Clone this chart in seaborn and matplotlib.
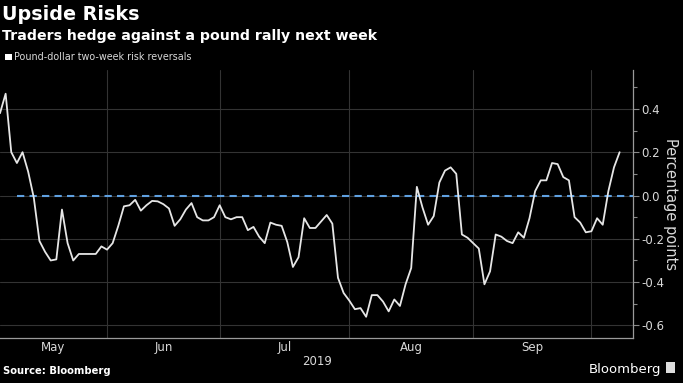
import numpy as np
import pandas as pd
import matplotlib.pyplot as plt
import seaborn as sns
from matplotlib.patches import Rectangle
from matplotlib.ticker import MultipleLocator

# Pound-dollar two-week risk reversals, one value per business day
start_date = "2019-05-07"
risk_reversals = [
    0.38, 0.47, 0.20, 0.15, 0.20, 0.11, -0.01, -0.21, -0.26, -0.30,
    -0.295, -0.065, -0.22, -0.30, -0.27, -0.27, -0.27, -0.27, -0.235, -0.25,
    -0.22, -0.14, -0.05, -0.045, -0.02, -0.07, -0.045, -0.025, -0.027, -0.04,
    -0.06, -0.14, -0.11, -0.065, -0.035, -0.10, -0.115, -0.115, -0.10, -0.045,
    -0.10, -0.11, -0.10, -0.10, -0.16, -0.145, -0.19, -0.22, -0.125, -0.135,
    -0.14, -0.215, -0.33, -0.285, -0.105, -0.15, -0.15, -0.12, -0.09, -0.13,
    -0.38, -0.45, -0.485, -0.525, -0.52, -0.56, -0.46, -0.46, -0.49, -0.535,
    -0.48, -0.51, -0.41, -0.335, 0.04, -0.055, -0.135, -0.095, 0.06, 0.115,
    0.13, 0.10, -0.18, -0.195, -0.22, -0.245, -0.41, -0.35, -0.18, -0.19,
    -0.21, -0.22, -0.17, -0.195, -0.105, 0.02, 0.07, 0.07, 0.15, 0.145,
    0.085, 0.07, -0.10, -0.125, -0.17, -0.165, -0.105, -0.135, 0.02, 0.13,
    0.20,
]
month_labels = ["May", "Jun", "Jul", "Aug", "Sep"]
month_starts = ["2019-06-03", "2019-07-01", "2019-08-01", "2019-09-02", "2019-10-01"]
y_ticks = [-0.6, -0.4, -0.2, 0.0, 0.2, 0.4]

# Business-day axis (weekends are squeezed out, as on the terminal chart)
dates = pd.bdate_range(start_date, periods=len(risk_reversals))
df = pd.DataFrame({"date": dates, "day": np.arange(len(dates)), "value": risk_reversals})
boundaries = list(dates.get_indexer(pd.to_datetime(month_starts)))
edges = [0] + boundaries
label_pos = [(a + b) / 2 for a, b in zip(edges[:-1], edges[1:])]

sns.set_theme(style="dark")
plt.rcParams['font.family'] = ['DejaVu Sans']
plt.rcParams['axes.unicode_minus'] = False

bg = "black"
grid_col = "#333333"
text_col = "#d9d9d9"

fig = plt.figure(figsize=(6.83, 3.83), dpi=100, facecolor=bg)
ax = fig.add_axes([0.0, 0.1175, 0.927, 0.7])
ax.set_facecolor(bg)

sns.lineplot(data=df, x="day", y="value", ax=ax, color="#e6e6e6", linewidth=1.3)
ax.axhline(0, xmin=0.027, xmax=1, color="#5fa0e0", linestyle=(0, (3.5, 2.5)), linewidth=1.5, zorder=1)

ax.set_xlim(0, 112.4)
ax.set_ylim(-0.658, 0.58)

# Y axis on the right
ax.yaxis.tick_right()
ax.yaxis.set_label_position("right")
ax.set_yticks(y_ticks)
ax.set_yticklabels([f"{v:.1f}" for v in y_ticks])
ax.yaxis.set_minor_locator(MultipleLocator(0.1))
ax.set_ylabel("Percentage points", color=text_col, fontsize=10.5, rotation=270, labelpad=10)

# X axis: gridlines at month starts, labels in the middle of each month
ax.set_xticks(boundaries)
ax.set_xticklabels([])
ax.set_xticks(label_pos, minor=True)
ax.set_xticklabels(month_labels, minor=True)
ax.set_xlabel("2019", color=text_col, fontsize=8.5, labelpad=1)

ax.tick_params(axis="both", which="both", colors=text_col, labelsize=8.5)
ax.tick_params(axis="x", which="major", length=3, width=0.8, color="#888888")
ax.tick_params(axis="x", which="minor", length=0, pad=2)
ax.tick_params(axis="y", which="major", length=4, width=0.8, color="#888888", pad=2)
ax.tick_params(axis="y", which="minor", length=3, width=0.8, color="#888888")

ax.grid(True, which="major", color=grid_col, linewidth=0.8)
ax.grid(False, which="minor")
for side in ["top", "left"]:
    ax.spines[side].set_visible(False)
for side in ["right", "bottom"]:
    ax.spines[side].set_color("#9a9a9a")
    ax.spines[side].set_linewidth(0.9)

# Titles and legend
fig.text(0.003, 0.963, "Upside Risks", color="white", fontsize=13.8, fontweight="bold", va="center")
fig.text(0.003, 0.905, "Traders hedge against a pound rally next week", color="white",
         fontsize=10.2, fontweight="bold", va="center")
fig.patches.append(Rectangle((0.008, 0.843), 0.009, 0.016, transform=fig.transFigure,
                             facecolor="white", edgecolor="none"))
fig.text(0.021, 0.851, "Pound-dollar two-week risk reversals", color=text_col, fontsize=6.9, va="center")

# Footer
fig.text(0.004, 0.018, "Source: Bloomberg", color="white", fontsize=7.2, fontweight="bold", va="bottom")
fig.text(0.968, 0.018, "Bloomberg", color="white", fontsize=9.5, ha="right", va="bottom")
fig.patches.append(Rectangle((0.975, 0.026), 0.014, 0.03, transform=fig.transFigure,
                             facecolor="#dddddd", edgecolor="none"))

fig.savefig("out.png", dpi=100, facecolor=bg)
